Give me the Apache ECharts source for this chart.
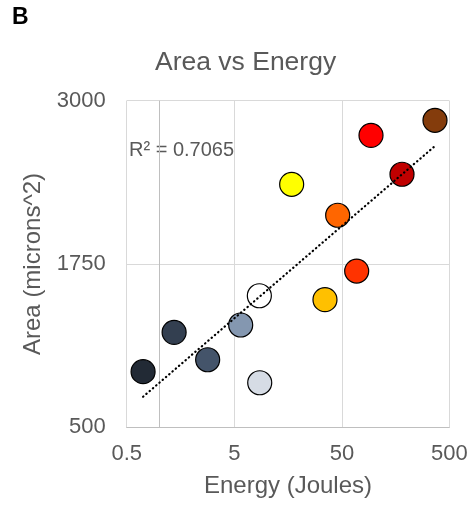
<!DOCTYPE html>
<html><head><meta charset="utf-8">
<script src="https://cdn.jsdelivr.net/npm/echarts@6/dist/echarts.min.js"></script>
<style>html,body{margin:0;padding:0;background:#fff}#chart{width:473px;height:508px}</style>
</head><body><div id="chart"></div>
<script>
// Energy delivered (J) and resulting lesion area (microns^2)
const energy = [0.71, 1.38, 2.83, 5.74, 8.56, 8.63, 17.1, 34.9, 45.8, 68.8, 93.5, 181.6, 368];
const area = [926, 1227, 1017, 1283, 1507, 841, 2360, 1477, 2123, 1696, 2735, 2437, 2850];
const pointColors = ['#222a35', '#333f50', '#44546a', '#8497b0', '#ffffff', '#d6dce5',
  '#ffff00', '#ffc000', '#ff6600', '#ff3300', '#ff0000', '#c00000', '#843c0c'];
// Logarithmic trendline end points
const trendEnergy = [0.71, 368];
const trendArea = [734, 2653];
const xTickLabels = ['0.5', '5', '50', '500'];
const yTickLabels = ['500', '1750', '3000'];
const rSquaredText = 'R² = 0.7065';

const font = "'Liberation Sans', Arial, sans-serif";
const textGray = '#595959';

const chart = echarts.init(document.getElementById('chart'), null, {renderer: 'canvas'});

function nearestXLabel(v) {
  let best = xTickLabels[0], bd = Infinity;
  xTickLabels.forEach(t => {
    const d = Math.abs(Math.log10(v) - Math.log10(parseFloat(t)));
    if (d < bd) { bd = d; best = t; }
  });
  return best;
}

chart.setOption({
  animation: false,
  backgroundColor: '#ffffff',
  title: {
    text: 'Area vs Energy',
    left: 150, top: 44,
    textStyle: {fontFamily: font, fontSize: 26.5, fontWeight: 'normal', color: textGray}
  },
  graphic: [
    {type: 'text', left: 12, top: 6, style: {text: 'B', font: "bold 23px 'Liberation Sans', Arial", fill: '#000'}},
    {type: 'text', left: 129, top: 140, style: {text: rSquaredText, font: "20px 'Liberation Sans', Arial", fill: textGray}}
  ],
  grid: {left: 126.7, right: 23.7, top: 100.7, bottom: 80.7, containLabel: false},
  xAxis: {
    type: 'log', logBase: 10, min: 0.5, max: 500, interval: 1,
    name: 'Energy (Joules)', nameLocation: 'middle', nameGap: 47,
    nameTextStyle: {fontFamily: font, fontSize: 24, color: textGray},
    axisLine: {show: true, lineStyle: {color: '#bfbfbf', width: 1}},
    axisTick: {show: false},
    axisLabel: {margin: 16, fontFamily: font, fontSize: 22, color: textGray, formatter: nearestXLabel,
      showMinLabel: true, showMaxLabel: true},
    splitLine: {show: true, lineStyle: {color: '#d9d9d9', width: 1}}
  },
  yAxis: {
    type: 'value', min: 500, max: 3000, interval: 1250,
    name: 'Area (microns^2)', nameLocation: 'middle', nameGap: 80,
    nameTextStyle: {fontFamily: font, fontSize: 24, color: textGray},
    axisLine: {show: false},
    axisTick: {show: false},
    axisLabel: {margin: 21, fontFamily: font, fontSize: 22, color: textGray,
      formatter: v => yTickLabels.find(t => +t === Math.round(v)) || ''},
    splitLine: {show: true, lineStyle: {color: '#d9d9d9', width: 1}}
  },
  series: [
    {
      type: 'scatter',
      symbol: 'circle',
      symbolSize: 24,
      data: energy.map((e, i) => ({value: [e, area[i]], itemStyle: {color: pointColors[i]}})),
      itemStyle: {borderColor: '#000', borderWidth: 1.2, opacity: 1},
      emphasis: {disabled: true},
      z: 3,
      markLine: {
        silent: true, symbol: 'none', label: {show: false},
        lineStyle: {color: '#bfbfbf', type: 'solid', width: 1},
        data: [{xAxis: 1}],
        z: 1
      }
    },
    {
      type: 'line',
      data: trendEnergy.map((e, i) => [e, trendArea[i]]),
      showSymbol: false, symbol: 'none',
      lineStyle: {color: '#000', width: 2.2, type: [0.4, 3.9], cap: 'round'},
      z: 4
    }
  ]
});
</script>
</body></html>
